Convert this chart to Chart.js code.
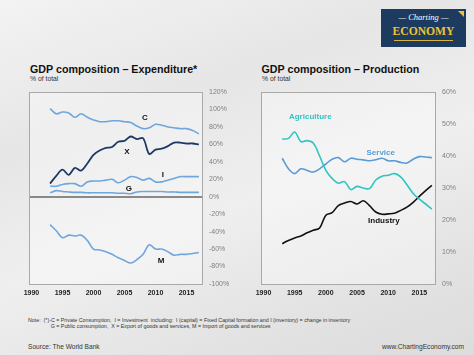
<!DOCTYPE html>
<html><head><meta charset="utf-8">
<script src="https://cdn.jsdelivr.net/npm/chart.js@4/dist/chart.umd.min.js"></script>
<style>
html,body{margin:0;padding:0;}
body{width:474px;height:355px;overflow:hidden;position:relative;font-family:"Liberation Sans",Arial,sans-serif;
background:linear-gradient(160deg,#f3f3f3 0%,#e6e6e6 30%,#efefef 55%,#e3e3e3 80%,#dcdcdc 100%);}
.t{position:absolute;white-space:nowrap;color:#111;}
.title{font-weight:bold;font-size:10.7px;line-height:12px;top:63px;}
.sub{font-size:6.8px;line-height:8px;top:75px;color:#333;}
.note{font-size:5.3px;line-height:6px;color:#333;}
.src{font-size:6.6px;line-height:8px;top:343px;color:#333;}
canvas{position:absolute;}
#logo{position:absolute;left:381px;top:9px;width:85px;height:38px;background:#1d3a5f;}
</style></head>
<body>
<div class="t title" style="left:30px;">GDP composition – Expenditure*</div>
<div class="t sub" style="left:30px;">% of total</div>
<div class="t title" style="left:261.5px;">GDP composition – Production</div>
<div class="t sub" style="left:262px;">% of total</div>

<div id="logo">
  <div class="t" style="left:0;width:85px;top:3px;text-align:center;color:#fff;font:italic 8.5px 'Liberation Serif',serif;line-height:10px;">— Charting —</div>
  <div class="t" style="left:0;width:85px;top:17px;text-align:center;color:#f0c232;font:bold 11.6px 'Liberation Serif',serif;line-height:12px;">ECONOMY</div>
  <div style="position:absolute;left:13px;top:31px;width:59px;height:1px;background:#d9b540;"></div>
  <div style="position:absolute;right:2px;top:2px;width:0;height:0;border-top:6px solid #f0c232;border-left:6px solid transparent;"></div>
</div>

<canvas id="left" width="240" height="230" style="left:0;top:80px;"></canvas>
<canvas id="right" width="234" height="230" style="left:240px;top:80px;"></canvas>

<div class="t note" style="left:28px;top:317px;">Note:&nbsp; (*)-C = Private Consumption,&nbsp; I = Investment&nbsp; including:&nbsp; I (capital) = Fixed Capital formation and I (inventory) = change in inventory</div>
<div class="t note" style="left:50.7px;top:323px;">G = Public consumption,&nbsp; X = Export of goods and services, M = Import of goods and services</div>
<div class="t src" style="left:28px;">Source: The World Bank</div>
<div class="t src" style="right:10px;">www.ChartingEconomy.com</div>

<script>
const years = [1993,1994,1995,1996,1997,1998,1999,2000,2001,2002,2003,2004,2005,2006,2007,2008,2009,2010,2011,2012,2013,2014,2015,2016,2017];
const xTicks = [1990,1995,2000,2005,2010,2015];
const expYTicks = [-100,-80,-60,-40,-20,0,20,40,60,80,100,120];
const prodYTicks = [0,10,20,30,40,50,60];

// Expenditure (% of GDP)
const C = [101,95,97,96,91,95,91,88,86,86,87,87,86,85,81,78,79,83,82,80,79,78,78,76,72];
const X = [15,24,31,25,33,30,38,48,53,56,57,63,64,69,66,67,49,54,55,58,62,62,61,61,60];
const I = [12,12,14,15,15,12,17,18,18,19,20,16,19,23,22,19,21,17,17,19,21,23,23,23,23];
const G = [4.5,7,6,5.5,5,5,4.5,4.5,4.5,4.5,4.5,4,4,3.5,5.5,6,6,6,6,5.5,5.5,5,5,5,5];
const M = [-32,-39,-47,-44,-45,-44,-50,-60,-61,-63,-66,-70,-73,-76,-72,-66,-55,-60,-60,-63,-67,-66,-66,-65,-64];

// Production (% of GDP)
const agriculture = [45.3,45.5,47.5,44.5,44.8,44,40,35.5,33,31.5,32,29.5,30.5,30,29.8,32.5,33.7,34,34.5,33.5,31,28.3,26.5,25,23.4];
const service = [39.3,36,34.5,36,35.5,35,36,37.5,39,39.5,38.2,39.3,39,38.8,38.5,38.8,39.3,38.5,38.5,38,37.8,39,39.8,39.7,39.5];
const industry = [12.6,13.6,14.4,15,16,16.8,17.5,21.5,22.3,24.5,25.3,25.8,25,26,24.5,22.5,21.8,21.9,22.1,23,24,25.5,27.4,29.2,30.8];

const expLabels = [
  {text:'C', x:2008.3, y:90, color:'#111'},
  {text:'X', x:2005.4, y:51, color:'#111'},
  {text:'I', x:2011.2, y:25, color:'#111'},
  {text:'G', x:2005.7, y:9, color:'#111'},
  {text:'M', x:2010.9, y:-73.5, color:'#111'}
];
const prodLabels = [
  {text:'Agriculture', x:1997.5, y:52.2, color:'#2fc4c4'},
  {text:'Service', x:2008.8, y:41, color:'#5b9bd5'},
  {text:'Industry', x:2009.3, y:19.7, color:'#111'}
];

const FONT = "'Liberation Sans', Arial, sans-serif";
const pts = arr => years.map((y,i)=>({x:y, y:arr[i]}));

const areaPlugin = {
  id:'area',
  beforeDatasetsDraw(chart){
    const a = chart.chartArea, c = chart.ctx;
    c.save(); c.fillStyle='rgba(255,255,255,0.35)';
    c.fillRect(a.left,a.top,a.right-a.left,a.bottom-a.top); c.restore();
  },
  afterDraw(chart){
    const a = chart.chartArea, c = chart.ctx;
    c.save(); c.strokeStyle='#a9a9a9'; c.lineWidth=1;
    c.strokeRect(Math.round(a.left)+0.5,Math.round(a.top)+0.5,Math.round(a.right-a.left),Math.round(a.bottom-a.top));
    c.restore();
    const labels = chart.options.plugins.area.labels || [];
    c.save(); c.font = "bold 8px " + FONT; c.textAlign='center'; c.textBaseline='middle';
    labels.forEach(l=>{
      c.fillStyle=l.color;
      c.fillText(l.text, chart.scales.x.getPixelForValue(l.x), chart.scales.y.getPixelForValue(l.y));
    });
    c.restore();
  }
};

function ds(data,color,w){ return {data:pts(data), borderColor:color, borderWidth:w, pointRadius:0, tension:0.35, fill:false}; }

function makeOpts(yMin,yMax,yTicks,yWidth,padLeft,labels,zeroLine){
  return {
    responsive:false, animation:false, devicePixelRatio:1,
    layout:{padding:{left:padLeft,top:12,right:0,bottom:0}},
    plugins:{legend:{display:false}, tooltip:{enabled:false}, area:{labels:labels}},
    scales:{
      x:{type:'linear', min:1989.6, max:2017.5,
         afterBuildTicks:s=>{s.ticks = xTicks.map(v=>({value:v}));},
         afterFit:s=>{s.height=26;},
         grid:{display:false, drawTicks:false}, border:{display:false},
         ticks:{padding:5, color:'#222', font:{family:FONT, size:7, weight:'bold'}, maxRotation:0, autoSkip:false, callback:v=>String(v)}},
      y:{type:'linear', position:'right', min:yMin, max:yMax,
         afterBuildTicks:s=>{s.ticks = yTicks.map(v=>({value:v}));},
         afterFit:s=>{s.width=yWidth;},
         grid:{display:zeroLine, drawTicks:false,
               color:ctx=>(ctx.tick && ctx.tick.value===0)?'#4a4a4a':'rgba(0,0,0,0)',
               lineWidth:ctx=>(ctx.tick && ctx.tick.value===0)?2:0},
         border:{display:false},
         ticks:{padding:7, color:'#808080', font:{family:FONT, size:7}, callback:v=>v+'%'}}
    }
  };
}

new Chart(document.getElementById('left'), {
  type:'line',
  data:{datasets:[
    ds(C,'#6fa7dc',1.6),
    ds(X,'#1f3864',1.8),
    ds(I,'#6fa7dc',1.6),
    ds(G,'#6fa7dc',1.6),
    ds(M,'#6fa7dc',1.6)
  ]},
  options:makeOpts(-100,120,expYTicks,38,29,expLabels,true),
  plugins:[areaPlugin]
});

new Chart(document.getElementById('right'), {
  type:'line',
  data:{datasets:[
    ds(agriculture,'#2fc4c4',1.6),
    ds(service,'#5b9bd5',1.6),
    ds(industry,'#111111',1.6)
  ]},
  options:makeOpts(0,60,prodYTicks,39,21,prodLabels,false),
  plugins:[areaPlugin]
});
</script>
</body></html>
